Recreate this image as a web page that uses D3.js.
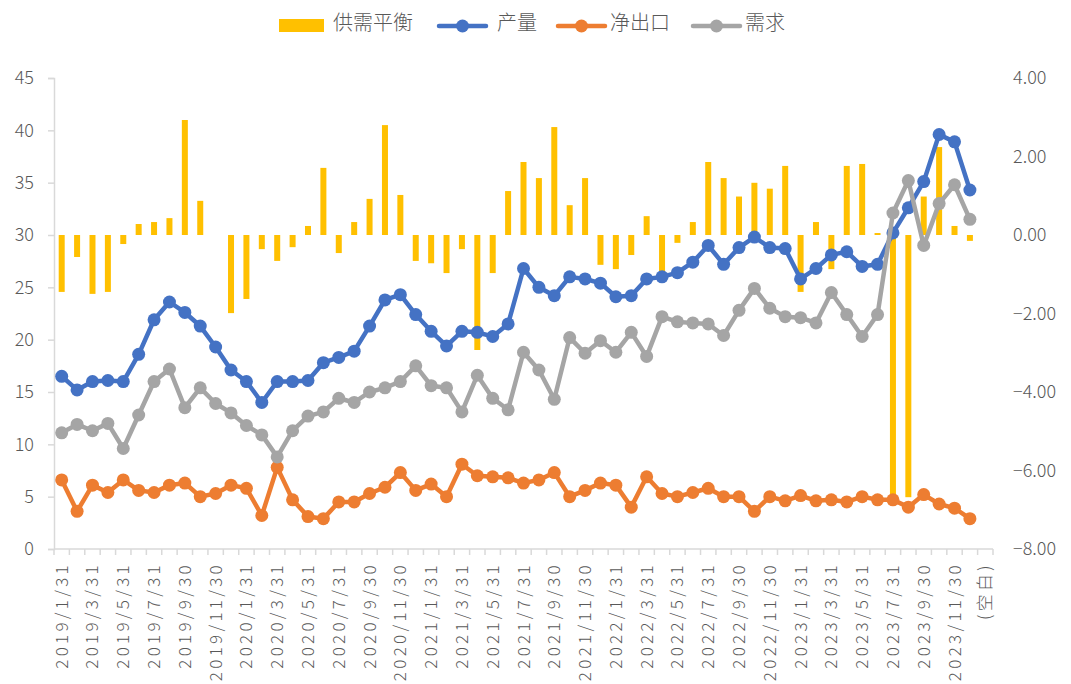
<!DOCTYPE html>
<html><head><meta charset="utf-8">
<script src="https://cdn.jsdelivr.net/npm/d3@7"></script>
<style>
body{margin:0;background:#fff}
text{font-family:"Noto Sans CJK SC","Noto Sans",sans-serif;fill:#595959;font-weight:300}
</style>
</head><body><svg id="c" width="1071" height="684"></svg>
<script>
const categories = [
"2019/1/31","2019/2/28","2019/3/31","2019/4/30","2019/5/31","2019/6/30","2019/7/31","2019/8/31","2019/9/30","2019/10/31","2019/11/30","2019/12/31",
"2020/1/31","2020/2/29","2020/3/31","2020/4/30","2020/5/31","2020/6/30","2020/7/31","2020/8/31","2020/9/30","2020/10/31","2020/11/30","2020/12/31",
"2021/1/31","2021/2/28","2021/3/31","2021/4/30","2021/5/31","2021/6/30","2021/7/31","2021/8/31","2021/9/30","2021/10/31","2021/11/30","2021/12/31",
"2022/1/31","2022/2/28","2022/3/31","2022/4/30","2022/5/31","2022/6/30","2022/7/31","2022/8/31","2022/9/30","2022/10/31","2022/11/30","2022/12/31",
"2023/1/31","2023/2/28","2023/3/31","2023/4/30","2023/5/31","2023/6/30","2023/7/31","2023/8/31","2023/9/30","2023/10/31","2023/11/30","2023/12/31",
"(空白)"];

const balance = [-1.45,-0.56,-1.50,-1.45,-0.23,0.28,0.33,0.43,2.93,0.87,0,-1.99,
-1.63,-0.36,-0.66,-0.31,0.23,1.71,-0.46,0.33,0.92,2.80,1.02,-0.66,
-0.72,-0.97,-0.36,-2.93,-0.97,1.12,1.86,1.45,2.75,0.76,1.45,-0.76,
-0.87,-0.51,0.48,-0.95,-0.20,0.33,1.86,1.45,0.98,1.33,1.18,1.76,
-1.45,0.33,-0.87,1.76,1.81,0.05,-6.75,-6.68,0.98,2.24,0.23,-0.15];

const production = [16.5,15.2,16.0,16.1,16.0,18.6,21.9,23.6,22.6,21.3,19.3,17.1,
16.0,14.0,16.0,16.0,16.1,17.8,18.3,18.9,21.3,23.8,24.3,22.4,
20.8,19.4,20.8,20.7,20.3,21.5,26.8,25.0,24.2,26.0,25.8,25.4,
24.1,24.2,25.8,26.0,26.4,27.4,29.0,27.2,28.8,29.8,28.8,28.7,
25.8,26.8,28.1,28.4,27.0,27.2,30.2,32.6,35.1,39.6,38.9,34.3];

const netExport = [6.6,3.6,6.1,5.4,6.6,5.6,5.4,6.1,6.3,5.0,5.3,6.1,
5.8,3.2,7.8,4.7,3.1,2.9,4.5,4.5,5.3,5.9,7.3,5.6,
6.2,5.0,8.1,7.0,6.9,6.8,6.3,6.6,7.3,5.0,5.6,6.3,
6.1,4.0,6.9,5.3,5.0,5.4,5.8,5.0,5.0,3.6,5.0,4.6,
5.1,4.6,4.7,4.5,5.0,4.7,4.7,4.0,5.2,4.3,3.9,2.9];

const demand = [11.1,11.9,11.3,12.0,9.6,12.8,16.0,17.2,13.5,15.4,13.9,13.0,
11.8,10.9,8.8,11.3,12.7,13.1,14.4,14.0,15.0,15.4,16.0,17.5,
15.6,15.4,13.1,16.6,14.4,13.3,18.8,17.1,14.3,20.2,18.7,19.9,
18.8,20.7,18.4,22.2,21.7,21.6,21.5,20.4,22.8,24.9,23.0,22.2,
22.1,21.6,24.5,22.4,20.3,22.4,32.1,35.2,29.0,33.0,34.8,31.5];

const leftTicks = [0,5,10,15,20,25,30,35,40,45];
const rightTicks = [-8,-6,-4,-2,0,2,4];
const seriesNames = ["供需平衡","产量","净出口","需求"];
const colors = ["#FFC000","#4472C4","#ED7D31","#A5A5A5"];

const svg = d3.select("#c");
const x = d3.scaleBand().domain(categories).range([54, 993]).paddingInner(0).paddingOuter(0);
const yL = d3.scaleLinear().domain([0,45]).range([549,78]);
const yR = d3.scaleLinear().domain([-8,4]).range([549,78]);
const cx = c => x(c) + x.bandwidth()/2;

// bars
const barW = 6;
svg.append("g").selectAll("rect").data(balance).join("rect")
  .attr("x", (d,i)=>cx(categories[i]) - barW/2)
  .attr("width", barW)
  .attr("y", d=>Math.min(yR(d), yR(0)))
  .attr("height", d=>Math.abs(yR(d)-yR(0)))
  .attr("fill", colors[0]);

// left axis
const gL = svg.append("g").attr("transform","translate(54,0)")
  .call(d3.axisLeft(yL).tickValues(leftTicks).tickSize(6).tickPadding(14).tickFormat(d3.format("d")));
gL.select(".domain").attr("stroke","#d9d9d9").attr("stroke-width",1.5);
gL.selectAll(".tick line").attr("stroke","#d9d9d9").attr("stroke-width",1.5);
gL.selectAll("text").style("font-size","18px").style("font-family",'"Noto Sans CJK SC",sans-serif').style("font-weight",300).attr("fill","#595959");

// right axis (labels only)
const gR = svg.append("g").attr("transform","translate(1013,0)")
  .call(d3.axisRight(yR).tickValues(rightTicks).tickSize(0).tickPadding(0).tickFormat(d3.format(".2f")));
gR.select(".domain").remove();
gR.selectAll("text").style("font-size","18px").style("font-family",'"Noto Sans CJK SC",sans-serif').style("font-weight",300).attr("fill","#595959");

// bottom axis
const gB = svg.append("g").attr("transform","translate(0,549)");
gB.append("line").attr("x1",54).attr("x2",993).attr("stroke","#d9d9d9").attr("stroke-width",1.5);
const bounds = categories.map(c=>x(c)).concat([x(categories[categories.length-1])+x.bandwidth()]);
gB.selectAll("line.tk").data(bounds).join("line").attr("class","tk")
  .attr("x1",d=>d).attr("x2",d=>d).attr("y1",0).attr("y2",6)
  .attr("stroke","#d9d9d9").attr("stroke-width",1.5);
gB.selectAll("text").data(categories.filter((c,i)=>i%2===0)).join("text")
  .attr("transform", c=>`translate(${cx(c)+6},13) rotate(-90)`)
  .attr("text-anchor","end")
  .style("font-size","17px").style("letter-spacing","3.3px")
  .text(c=>c);

// lines
const lineSeries = [production, netExport, demand];
lineSeries.forEach((vals, k) => {
  const col = colors[k+1];
  const line = d3.line().x((d,i)=>cx(categories[i])).y(d=>yL(d));
  svg.append("path").datum(vals).attr("d", line).attr("fill","none")
    .attr("stroke", col).attr("stroke-width",4.5).attr("stroke-linejoin","round");
  svg.append("g").selectAll("circle").data(vals).join("circle")
    .attr("cx",(d,i)=>cx(categories[i])).attr("cy",d=>yL(d)).attr("r",6.5).attr("fill",col);
});

// legend
const leg = svg.append("g");
leg.append("rect").attr("x",279).attr("y",19).attr("width",45).attr("height",13).attr("fill",colors[0]);
leg.append("text").attr("x",333).attr("y",30).style("font-size","20px").text(seriesNames[0]);
const lx = [[439,497],[558,610],[693,745]];
lx.forEach(([a,t],k)=>{
  leg.append("line").attr("x1",a).attr("x2",a+47).attr("y1",26).attr("y2",26)
    .attr("stroke",colors[k+1]).attr("stroke-width",4.5).attr("stroke-linecap","round");
  leg.append("circle").attr("cx",a+23.5).attr("cy",26).attr("r",6.5).attr("fill",colors[k+1]);
  leg.append("text").attr("x",t).attr("y",30).style("font-size","20px").text(seriesNames[k+1]);
});
</script>
</body></html>
